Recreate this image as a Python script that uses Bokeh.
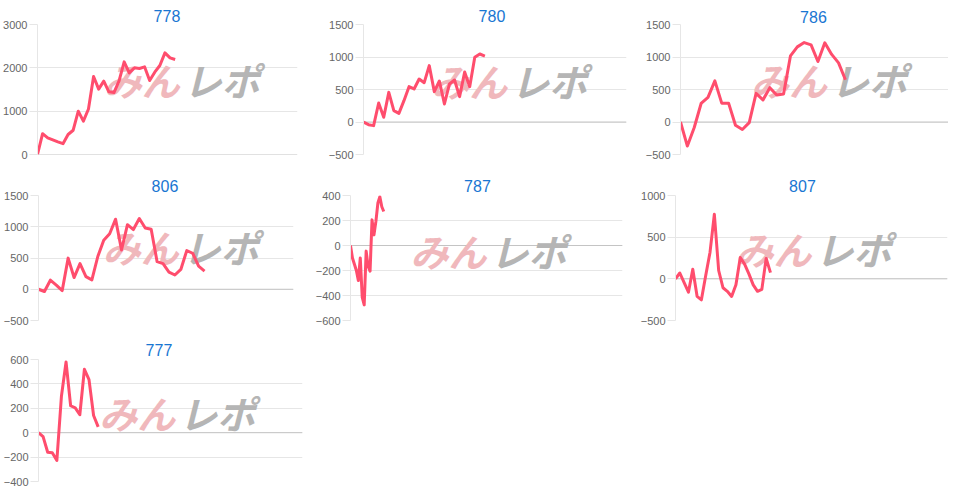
from bokeh.plotting import figure
from bokeh.layouts import column, row
from bokeh.models import FixedTicker, Span, Label, Range1d
from bokeh.embed import file_html
from bokeh.resources import INLINE

# ---------------- data ----------------
titles = ["778", "780", "786", "806", "787", "807", "777"]

v778 = [0, 480, 385, 338, 292, 250, 462, 560, 1000, 770, 1050, 1800, 1508, 1692,
        1446, 1430, 1700, 2138, 1885, 2000, 1985, 2023, 1708, 1900, 2054, 2346, 2230, 2192]
v780 = [0, -41, -56, 292, 72, 456, 174, 133, 328, 544, 508, 662, 605, 867, 467,
        631, 277, 585, 646, 390, 769, 544, 995, 1046, 1015]
v786 = [0, -370, -85, 285, 378, 632, 290, 290, -50, -115, -10, 440, 340, 528, 414,
        430, 1016, 1156, 1222, 1186, 930, 1218, 1040, 910, 650]
v806 = [0, -36, 145, 67, -21, 498, 187, 410, 202, 150, 524, 784, 888, 1121, 628,
        1033, 955, 1132, 981, 960, 441, 410, 275, 228, 317, 618, 576, 369, 291]
v787 = [0, -100, -150, -200, -280, -100, -415, -475, -45, -165, -205, 205, 85, 195,
        340, 390, 310, 272]
v807 = [0, 70, -45, -160, 115, -210, -252, 40, 320, 775, 100, -107, -150, -211, -70,
        256, 176, 60, -72, -150, -127, 245, 75]
v777 = [0, -32, -160, -165, -227, 301, 580, 221, 203, 147, 520, 435, 141, 48]

series = [v778, v780, v786, v806, v787, v807, v777]

yticks = [
    [0, 1000, 2000, 3000],
    [-500, 0, 500, 1000, 1500],
    [-500, 0, 500, 1000, 1500],
    [-500, 0, 500, 1000, 1500],
    [-600, -400, -200, 0, 200, 400],
    [-500, 0, 500, 1000],
    [-400, -200, 0, 200, 400, 600],
]
x_slots = [51, 52, 39, 43, 139, 63, 57.5]

# ---------------- layout / style ----------------
# (width, height, border_left, border_right, border_top, border_bottom)
geom = [
    (312, 164, 34, 15, 24, 10),
    (325, 164, 51, 11, 24, 10),
    (311, 164, 43, 0, 21, 9),
    (312, 166, 36, 19, 30, 7),
    (325, 166, 36, 15, 31, 10),
    (311, 166, 36, 1, 30, 10),
    (312, 158, 29, 10, 29, 7),
]
title_dx = [-2, -3, -1, -2, -10, -10, -16]
title_standoff = [5, 5, 3, 8, 8, 8, 8]
wm_pos = [(0.545, 0.576), (0.55, 0.573), (0.55, 0.56), (0.55, 0.577),
          (0.50, 0.56), (0.50, 0.57), (0.505, 0.566)]

LINE = "#ff4d6d"
GRID = "#e6e6e6"
LINK = "#1976d2"


def make(i):
    w, h, bl, br, bt, bb = geom[i]
    fw = w - bl - br
    fh = h - bt - bb
    ticks = yticks[i]
    vals = series[i]
    p = figure(width=w, height=h, output_backend="svg", toolbar_location=None,
               x_range=Range1d(0, x_slots[i]), y_range=Range1d(ticks[0], ticks[-1]),
               min_border_left=bl, min_border_right=br,
               min_border_top=bt, min_border_bottom=bb)
    p.title.text = titles[i]
    p.title.align = "left"
    p.title.offset = fw / 2 + title_dx[i] - 13.4
    p.title.standoff = title_standoff[i]
    p.title.text_font = "Liberation Sans"
    p.title.text_font_size = "16px"
    p.title.text_font_style = "normal"
    p.title.text_color = LINK

    p.outline_line_color = None
    p.background_fill_color = "white"
    p.border_fill_color = "white"
    p.xaxis.visible = False
    p.xgrid.visible = False

    tk = FixedTicker(ticks=ticks)
    p.yaxis.ticker = tk
    p.ygrid.ticker = tk
    p.ygrid.grid_line_color = GRID
    p.yaxis.axis_line_color = GRID
    p.yaxis.major_tick_line_color = GRID
    p.yaxis.major_tick_out = 8
    p.yaxis.major_tick_in = 0
    p.yaxis.minor_tick_line_color = None
    p.yaxis.major_label_standoff = 2
    p.yaxis.major_label_text_font = "Liberation Sans"
    p.yaxis.major_label_text_font_size = "11px"
    p.yaxis.major_label_text_color = "#666666"

    p.add_layout(Span(location=0, dimension="width", line_color="#c4c4c4",
                      line_width=1, level="underlay"))

    fx, fy = wm_pos[i]
    p.add_layout(Label(x=fx * fw - 1, y=fy * fh, x_units="screen", y_units="screen",
                       text="みん", text_align="right", text_baseline="middle",
                       text_font="Noto Sans CJK JP", text_font_style="bold italic",
                       text_font_size="38px", text_color="#f0b8bc", level="underlay"))
    p.add_layout(Label(x=fx * fw + 3, y=fy * fh, x_units="screen", y_units="screen",
                       text="レポ", text_align="left", text_baseline="middle",
                       text_font="Noto Sans CJK JP", text_font_style="bold italic",
                       text_font_size="38px", text_color="#b5b5b5", level="underlay"))

    p.line(list(range(len(vals))), vals, line_color=LINE, line_width=3,
           line_join="round")
    return p


figs = [make(i) for i in range(7)]
layout = column(row(figs[0], figs[1], figs[2]),
                row(figs[3], figs[4], figs[5]),
                row(figs[6]))

open("out.html", "w").write(file_html(layout, INLINE))
